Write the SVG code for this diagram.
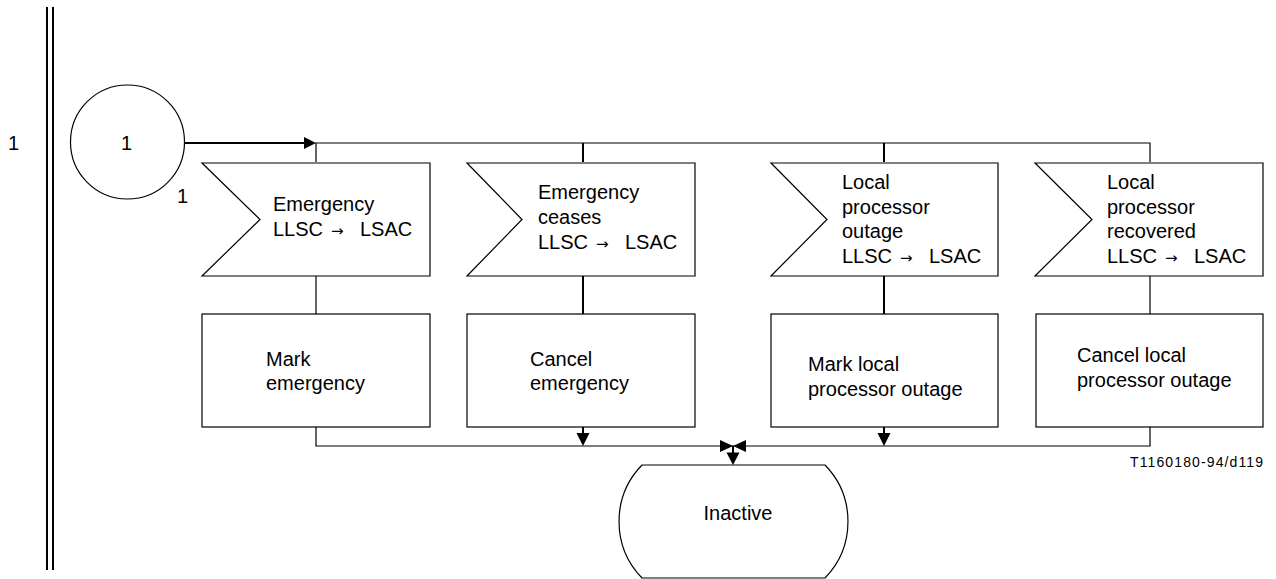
<svg xmlns="http://www.w3.org/2000/svg" width="1276" height="579" viewBox="0 0 1276 579">
<style>
text{font-family:"Liberation Sans",Arial,sans-serif;font-size:20px;fill:#000}
.sh{fill:#fff;stroke:#000;stroke-width:1.2}
.ln{fill:none;stroke:#000;stroke-width:1.2}
.thk{fill:none;stroke:#000;stroke-width:2}
.ah{fill:#000;stroke:none}
.arr{font-family:"DejaVu Sans",sans-serif;font-size:15px}
.ref{font-size:14px}
</style>
<rect width="1276" height="579" fill="#fff"/>
<g id="frame">
<line class="thk" x1="47" y1="7" x2="47" y2="570"/>
<line class="thk" x1="53" y1="7" x2="53" y2="570"/>
<text x="8" y="150">1</text>
</g>
<g id="connectors">
<line class="thk" x1="184" y1="143" x2="305" y2="143"/>
<polygon class="ah" points="304,137 316,143 304,149"/>
<polyline class="ln" points="316,162 316,143 1150,143 1150,162"/>
<line class="thk" x1="583" y1="143" x2="583" y2="162"/>
<line class="thk" x1="884" y1="143" x2="884" y2="162"/>
<line class="ln" x1="316" y1="276" x2="316" y2="314"/>
<line class="thk" x1="583" y1="276" x2="583" y2="314"/>
<line class="thk" x1="884" y1="276" x2="884" y2="314"/>
<line class="ln" x1="1150" y1="276" x2="1150" y2="314"/>
<polyline class="ln" points="316,427 316,446 1150,446 1150,427"/>
<line class="thk" x1="583" y1="427" x2="583" y2="436"/>
<polygon class="ah" points="576.5,433 589.5,433 583,446"/>
<line class="thk" x1="884" y1="427" x2="884" y2="436"/>
<polygon class="ah" points="877.5,433 890.5,433 884,446"/>
<polygon class="ah" points="720,440 733,446 720,452"/>
<polygon class="ah" points="746,440 733,446 746,452"/>
<line class="thk" x1="733" y1="446" x2="733" y2="455"/>
<polygon class="ah" points="726.5,452.5 739.5,452.5 733,465"/>
</g>
<g id="start">
<circle class="sh" cx="127.5" cy="142" r="57"/>
<text x="121" y="150">1</text>
<text x="177" y="203">1</text>
</g>
<g id="in1">
<polygon class="sh" points="202,163 430,163 430,276 202,276 260,219.5"/>
<text x="273" y="211">Emergency</text>
<text x="273" y="236">LLSC<tspan class="arr" x="331">→</tspan><tspan x="360">LSAC</tspan></text>
</g>
<g id="in2">
<polygon class="sh" points="467,163 695,163 695,276 467,276 522,219.5"/>
<text x="538" y="199">Emergency</text>
<text x="538" y="224">ceases</text>
<text x="538" y="249">LLSC<tspan class="arr" x="596">→</tspan><tspan x="625">LSAC</tspan></text>
</g>
<g id="in3">
<polygon class="sh" points="771,163 998,163 998,276 771,276 827,219.5"/>
<text x="842" y="189">Local</text>
<text x="842" y="213.7">processor</text>
<text x="842" y="238.4">outage</text>
<text x="842" y="263">LLSC<tspan class="arr" x="900">→</tspan><tspan x="929">LSAC</tspan></text>
</g>
<g id="in4">
<polygon class="sh" points="1035,163 1263,163 1263,276 1035,276 1092,219.5"/>
<text x="1107" y="189">Local</text>
<text x="1107" y="213.7">processor</text>
<text x="1107" y="238.4">recovered</text>
<text x="1107" y="263">LLSC<tspan class="arr" x="1165">→</tspan><tspan x="1194">LSAC</tspan></text>
</g>
<g id="t1">
<rect class="sh" x="202" y="314" width="228" height="113"/>
<text x="266" y="366">Mark</text>
<text x="266" y="390">emergency</text>
</g>
<g id="t2">
<rect class="sh" x="467" y="314" width="228" height="113"/>
<text x="530" y="366">Cancel</text>
<text x="530" y="390">emergency</text>
</g>
<g id="t3">
<rect class="sh" x="771" y="314" width="227" height="113"/>
<text x="808" y="371">Mark local</text>
<text x="808" y="396">processor outage</text>
</g>
<g id="t4">
<rect class="sh" x="1036" y="314" width="227" height="113"/>
<text x="1077" y="362">Cancel local</text>
<text x="1077" y="387">processor outage</text>
</g>
<g id="inactive">
<path class="sh" d="M642,465 L825,465 A81,81 0 0 1 825,578 L642,578 A81,81 0 0 1 642,465 Z"/>
<text x="738" y="520" text-anchor="middle">Inactive</text>
</g>
<text class="ref" x="1263" y="467" text-anchor="end" textLength="133" lengthAdjust="spacing">T1160180-94/d119</text>
</svg>
